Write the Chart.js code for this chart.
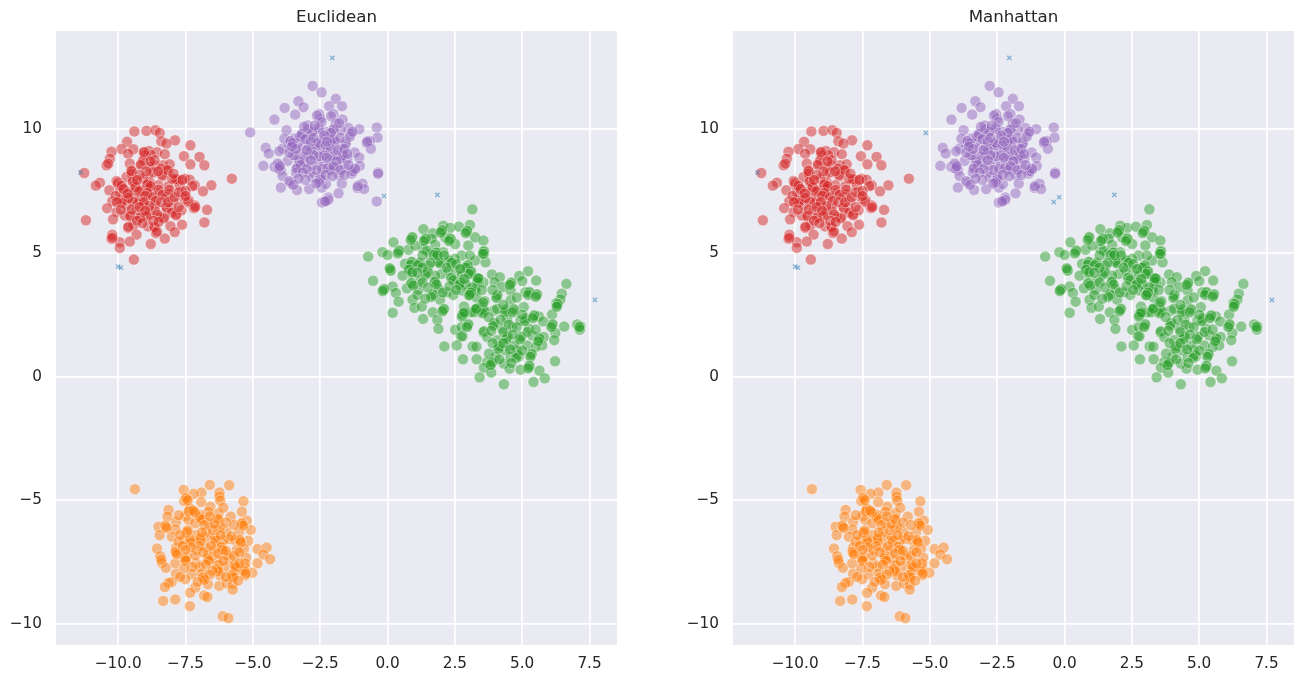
<!DOCTYPE html>
<html>
<head>
<meta charset="utf-8">
<title>Clusters by distance metric</title>
<script src="https://cdn.jsdelivr.net/npm/chart.js@4"></script>
<style>
    html, body { margin: 0; padding: 0; background: #ffffff; overflow: hidden; }
    canvas { position: absolute; top: 0; }
    #euclideanChart { left: 0; }
    #manhattanChart { left: 677px; }
</style>
</head>
<body>
<canvas id="euclideanChart" width="640" height="684"></canvas>
<canvas id="manhattanChart" width="628" height="684"></canvas>
<script>
const clusterRed = [
    [-9.40,9.91],[-8.95,9.93],[-8.62,9.96],[-8.46,9.85],[-7.89,9.55],[-8.40,9.51],[-8.21,9.42],[-9.67,9.49],[-7.32,9.35],
    [-9.88,9.20],[-9.44,9.19],[-10.25,9.09],[-9.63,9.01],[-9.05,9.04],[-8.86,9.12],[-8.56,9.07],[-8.27,8.99],[-7.56,8.91],
    [-6.98,8.88],[-10.31,8.81],[-9.01,8.95],[-8.77,8.95],[-10.43,8.54],[-10.37,8.61],[-9.57,8.61],[-9.14,8.61],[-9.07,8.74],
    [-8.64,8.54],[-8.33,8.54],[-8.09,8.58],[-7.32,8.58],[-6.80,8.54],[-9.51,8.34],[-8.40,8.41],[-8.15,8.31],[-11.26,8.23],
    [-8.89,8.14],[-8.36,8.09],[-5.78,8.00],[-10.68,7.84],[-10.83,7.72],[-6.54,7.73],[-10.06,7.91],[-10.00,7.77],[-9.84,7.64],
    [-9.44,7.93],[-9.38,7.73],[-8.83,7.86],[-8.89,7.80],[-7.84,7.93],[-7.78,7.96],[-7.53,8.00],[-7.35,7.96],[-7.16,7.73],
    [-8.15,7.69],[-9.32,7.53],[-10.33,7.53],[-7.63,7.46],[-6.85,7.49],[-8.95,7.39],[-8.77,7.32],[-9.81,7.19],[-9.94,7.12],
    [-9.44,7.19],[-10.22,7.09],[-7.38,7.12],[-7.16,6.92],[-7.19,6.81],[-10.41,6.81],[-10.06,6.65],[-9.01,6.92],[-8.64,6.92],
    [-8.21,6.85],[-8.02,6.78],[-7.84,6.58],[-7.65,6.72],[-6.70,6.74],[-11.20,6.32],[-10.19,6.36],[-9.54,6.51],[-9.75,6.51],
    [-9.20,6.45],[-8.95,6.47],[-8.83,6.58],[-8.31,6.45],[-6.80,6.23],[-7.63,6.14],[-8.06,6.08],[-9.63,6.01],[-9.44,6.11],
    [-8.89,6.07],[-8.64,6.01],[-8.60,5.80],[-7.90,5.84],[-9.32,5.74],[-10.22,5.73],[-10.25,5.57],[-9.94,5.43],[-9.57,5.46],
    [-8.27,5.58],[-8.79,5.36],[-9.94,5.20],[-9.42,4.73],[-9.26,6.99],[-8.46,7.39],[-7.96,7.12],[-9.57,7.46],[-9.07,8.00],
    [-8.52,7.73],[-8.09,7.39],[-9.69,8.07],[-9.14,7.53],[-8.64,6.72],[-8.21,7.26],[-7.72,7.73],[-9.94,7.46],[-9.32,6.72],
    [-9.69,6.92],[-8.46,6.45],[-7.53,7.19],[-9.51,8.20],[-8.83,8.47],[-9.20,7.12],[-8.83,7.59],
    [-10.02,7.85],[-9.88,7.72],[-9.80,7.58],[-9.46,7.88],[-9.35,7.66],[-9.22,7.48],[-8.92,7.76],[-8.80,7.70],[-8.92,7.42],
    [-9.00,7.30],[-8.70,7.25],[-8.60,7.10],[-9.78,7.12],[-9.46,7.08],[-9.88,7.02],[-9.62,7.22],[-7.86,7.98],[-7.62,7.95],
    [-7.25,7.70],[-8.36,8.15],[-8.18,8.36],[-9.50,8.30],[-9.04,9.08],[-9.16,8.55],[-7.40,7.05],[-7.14,6.85],[-8.20,6.82],
    [-8.00,6.62],[-7.85,6.52],[-9.55,6.48],[-8.94,6.52],[-9.18,6.42],[-9.62,6.06],[-8.66,6.05],[-8.56,5.86],[-10.22,5.62],
    [-8.30,6.40],[-8.85,6.90],[-8.50,7.55],[-8.35,7.35],[-8.10,7.55],[-8.70,8.25],[-8.52,8.30],[-8.95,8.30],[-9.20,8.15],
    [-9.30,7.95],[-10.10,7.30],[-10.05,7.05],[-9.65,7.40],[-9.05,7.05],[-8.40,7.05],[-8.15,7.05],[-7.90,7.25],[-7.75,7.45],
    [-7.50,7.50],[-7.50,7.30],[-9.50,6.75],[-9.20,6.85],[-9.00,6.70],[-8.55,6.55],[-7.75,6.85],[-9.90,6.75],[-9.30,6.30],
    [-9.10,6.20],[-8.70,6.30],[-8.50,6.25],[-8.00,8.00],[-7.95,8.20],[-8.65,8.75],[-8.80,8.70]
];

const clusterPurple = [
    [-2.78,11.75],[-2.45,11.49],[-1.92,11.23],[-3.31,11.13],[-3.12,10.89],[-3.82,10.86],[-2.17,10.93],[-1.69,10.93],[-3.43,10.59],
    [-4.20,10.39],[-2.54,10.61],[-2.01,10.61],[-2.50,10.43],[-2.10,10.53],[-1.67,10.39],[-1.92,10.23],[-2.97,10.15],[-3.75,9.96],
    [-2.57,10.05],[-2.01,9.96],[-1.45,10.05],[-1.05,10.00],[-0.40,10.07],[-0.37,9.66],[-1.36,9.82],[-3.22,9.76],[-2.85,9.80],
    [-3.59,9.49],[-3.65,9.42],[-2.41,9.62],[-1.98,9.58],[-1.55,9.49],[-0.66,9.52],[-0.77,9.45],[-0.62,9.21],[-4.52,9.25],
    [-4.41,9.02],[-3.89,9.22],[-4.02,9.11],[-2.60,9.42],[-3.22,9.22],[-2.17,9.29],[-1.73,9.22],[-1.22,9.06],[-1.67,8.88],
    [-1.05,8.86],[-2.97,8.88],[-3.28,8.77],[-3.71,8.72],[-2.54,8.77],[-2.17,8.75],[-4.61,8.52],[-4.20,8.48],[-4.02,8.55],
    [-3.96,8.34],[-3.34,8.48],[-3.40,8.24],[-2.87,8.25],[-2.17,8.37],[-1.55,8.41],[-1.24,8.34],[-1.03,8.52],[-0.35,8.25],
    [-3.90,8.11],[-3.59,7.83],[-3.96,7.64],[-3.36,7.54],[-2.91,7.58],[-2.51,7.94],[-2.44,7.64],[-2.29,7.78],[-1.80,8.14],
    [-1.70,7.80],[-1.33,8.21],[-0.93,7.80],[-1.12,7.63],[-0.87,7.58],[-1.82,7.41],[-2.20,7.24],[-2.44,7.04],[-2.27,7.10],
    [-3.46,9.62],[-3.03,9.56],[-2.66,9.15],[-2.35,9.15],[-1.92,8.95],[-3.52,8.95],[-2.78,8.55],[-3.09,8.61],[-2.41,8.48],
    [-1.86,8.48],[-1.49,8.81],[-2.29,9.89],[-1.73,9.96],[-3.34,9.42],[-3.83,9.62],[-2.78,8.07],[-2.04,8.88],[-2.50,8.07],
    [-2.10,9.56],[-2.91,9.29],[-4.08,8.61],
    [-3.60,9.52],[-3.52,9.44],[-3.25,9.70],[-3.18,9.80],[-2.60,9.35],[-2.55,9.45],[-2.85,9.15],[-3.10,8.90],[-3.28,8.70],
    [-3.22,8.55],[-3.38,8.40],[-4.05,8.42],[-4.00,8.50],[-2.50,7.98],[-2.55,7.85],[-2.42,8.40],[-2.20,8.45],[-2.10,8.35],
    [-1.65,8.95],[-1.72,8.80],[-1.30,8.30],[-1.20,8.40],[-2.05,9.60],[-1.95,9.50],[-1.55,9.40],[-2.00,10.00],[-2.10,9.85],
    [-2.55,10.00],[-2.62,10.55],[-2.45,10.30],[-2.80,9.90],[-2.95,10.00],[-3.05,9.60],[-2.85,9.50],[-2.30,9.35],[-2.10,9.20],
    [-2.35,8.95],[-2.55,8.90],[-2.75,8.95],[-2.25,8.85],[-1.85,9.15],[-1.60,9.20],[-1.50,9.00],[-1.90,8.70],[-2.00,8.50],
    [-1.75,8.35],[-2.65,8.35],[-3.00,8.40],[-3.15,8.25],[-2.85,8.75],[-3.45,8.95],[-3.65,9.05],[-3.40,9.20],[-3.00,9.15],
    [-2.75,9.65],[-2.35,9.75],[-2.25,9.50],[-1.75,9.65],[-1.40,9.70],[-1.30,9.90],[-3.65,7.90],[-3.50,7.75],[-2.65,7.80],
    [-2.20,7.15],[-2.32,7.08],[-1.10,7.70],[-0.35,8.20],[-0.75,9.50],[-3.55,9.30],[-1.45,8.55],[-2.30,8.15],[-2.05,8.10],
    [-1.60,8.15],[-3.05,7.95],[-3.30,8.00],[-2.70,10.15],[-3.10,10.10],[-1.80,10.25]
];
// These two only join the purple cluster under the euclidean metric
const purpleEuclideanOnly = [[-5.10,9.87],[-0.40,7.08]];

const clusterGreen = [
    [3.15,6.76],[1.33,5.96],[2.07,6.10],[2.32,6.01],[2.65,6.06],[3.06,6.13],[2.94,5.86],[2.01,5.88],[1.68,5.79],[0.90,5.59],
    [0.22,5.43],[3.25,5.63],[1.40,5.54],[2.32,5.54],[1.77,5.32],[3.00,5.30],[3.56,5.50],[0.78,5.13],[0.41,5.05],[-0.19,5.03],
    [0.00,4.92],[-0.72,4.85],[1.33,5.16],[1.83,5.00],[2.75,4.89],[3.56,5.03],[0.90,4.60],[1.15,4.56],[1.89,4.62],[2.32,4.65],
    [2.94,4.46],[0.10,4.33],[0.78,4.29],[1.46,4.19],[2.57,4.29],[3.06,4.22],[0.56,4.08],[-0.54,3.87],[1.77,3.79],[0.90,3.75],
    [2.38,3.95],[2.69,3.75],[3.37,3.92],[-0.15,3.50],[0.19,3.64],[0.72,3.57],[1.15,3.52],[0.31,3.38],[2.20,3.41],[3.06,3.34],
    [1.67,3.28],[2.44,3.30],[0.41,3.03],[0.93,3.11],[1.95,3.11],[1.00,2.78],[1.27,2.83],[2.07,2.70],[0.19,2.58],[1.68,2.60],
    [2.84,2.83],[2.78,2.49],[3.25,2.67],[3.56,2.63],[1.32,2.33],[1.85,2.29],[2.98,2.06],[1.89,1.93],[2.51,1.89],[2.72,1.63],
    [3.56,1.79],[2.11,1.22],[2.57,1.26],[3.16,1.22],[1.58,4.96],[2.07,5.03],[2.51,4.76],[3.25,4.69],[1.52,4.49],[2.01,4.15],
    [1.21,3.88],[1.89,3.55],[2.88,3.68],[1.02,5.30],[2.51,5.36],[3.25,3.55],[2.75,4.08],[1.64,5.57],[2.14,5.63],[3.56,3.81],
    [1.46,5.09],[2.26,4.29],[3.06,4.89],[1.77,4.08],[0.90,4.15],[3.49,2.87],[3.06,2.60],[0.65,4.56],
    [5.22,4.26],[4.89,4.07],[5.52,3.88],[3.88,4.13],[4.17,4.02],[5.00,3.86],[3.98,3.82],[6.64,3.75],[4.57,3.75],[4.26,3.62],
    [4.57,3.48],[5.25,3.37],[5.53,3.28],[5.12,3.41],[6.47,3.35],[6.42,3.12],[6.27,2.97],[6.30,2.88],[4.07,3.24],[3.60,3.05],
    [4.57,3.08],[5.06,2.81],[4.38,2.67],[3.58,2.61],[3.27,2.70],[2.84,2.54],[6.11,2.51],[5.62,2.43],[5.43,2.43],[5.12,2.30],
    [5.78,2.23],[3.95,2.11],[6.11,2.07],[6.56,2.02],[7.04,2.11],[7.16,2.03],[7.14,1.90],[4.63,2.00],[3.58,1.83],[2.75,2.00],
    [6.23,1.76],[3.70,1.60],[4.44,1.56],[4.94,1.56],[5.37,1.67],[5.62,1.49],[5.80,1.60],[6.19,1.47],[2.78,1.63],[4.26,1.94],
    [4.07,1.47],[5.74,1.26],[4.14,1.17],[3.30,1.21],[4.81,1.06],[5.33,0.86],[4.38,1.06],[4.88,0.82],[4.01,0.79],[3.31,0.70],
    [2.80,0.70],[6.22,0.62],[3.70,0.59],[3.86,0.52],[4.32,0.52],[3.58,0.36],[4.53,0.32],[4.94,0.28],[5.25,0.39],[5.64,0.24],
    [3.85,0.16],[3.42,-0.03],[5.84,-0.07],[5.42,-0.22],[4.32,-0.31],[2.96,4.42],[3.09,4.15],[3.33,3.95],[2.90,3.75],[3.09,3.35],
    [3.64,4.62],[3.58,4.96],[4.69,2.67],[3.95,2.67],[4.44,2.34],[4.94,2.27],[5.25,1.94],[4.69,1.26],[5.19,1.26],[3.77,0.93],
    [5.51,1.20],[4.57,0.79],[4.07,2.74],[3.27,3.48],[2.78,3.48],[3.40,3.82],
    [0.90,4.64],[0.86,4.52],[1.20,4.60],[1.12,4.50],[0.80,4.32],[0.92,4.22],[0.88,3.78],[0.95,3.68],[1.50,4.24],[1.42,4.12],
    [1.88,4.66],[1.95,4.58],[2.30,4.70],[2.38,4.60],[1.75,3.84],[1.82,3.72],[2.36,4.00],[2.44,3.90],[2.98,4.50],[2.90,4.40],
    [3.10,4.26],[3.02,4.15],[3.40,3.96],[3.34,3.85],[2.72,3.80],[2.66,3.70],[3.08,3.38],[3.02,3.28],[1.70,3.32],[1.62,3.22],
    [2.10,2.74],[2.04,2.64],[2.80,2.54],[2.76,2.42],[3.28,2.72],[3.20,2.60],[0.12,4.28],[0.08,4.38],[-0.12,3.54],[-0.18,3.46],
    [1.80,5.02],[1.72,4.92],[1.85,4.90],[1.42,5.58],[1.35,5.48],[2.34,5.58],[2.28,5.48],[2.96,5.90],[2.90,5.80],[2.03,5.92],
    [1.97,5.82],[0.92,5.64],[0.86,5.52],[0.44,5.10],[0.38,4.98],[3.58,5.08],[3.54,4.96],[3.60,2.68],[3.52,2.56],[3.00,2.12],
    [2.95,2.00],[1.30,4.90],[1.60,4.60],[2.10,4.90],[2.20,4.40],[2.55,4.55],[2.70,4.35],[1.30,4.40],[1.10,4.20],[1.30,3.80],
    [1.50,3.60],[2.05,3.40],[2.30,3.65],[2.55,3.50],[2.85,3.95],[3.15,3.60],[3.30,3.20],[3.50,3.50],[1.10,3.30],[1.40,3.15],
    [3.36,3.98],[3.10,3.40],[3.05,3.30],[2.85,2.60],[3.30,2.75],[4.08,3.30],[4.04,3.18],[4.60,3.80],[4.54,3.70],[5.27,3.42],
    [5.22,3.30],[5.55,3.33],[5.50,3.23],[4.40,2.72],[4.35,2.60],[4.70,2.72],[4.65,2.60],[3.97,2.17],[3.92,2.05],[5.14,2.36],
    [5.09,2.24],[5.45,2.48],[5.40,2.36],[4.46,1.62],[4.41,1.50],[4.96,1.62],[4.91,1.50],[5.64,1.55],[5.59,1.42],[4.16,1.23],
    [4.11,1.11],[4.83,0.88],[4.78,0.76],[5.35,0.92],[5.30,0.80],[3.88,0.58],[3.82,0.46],[5.27,0.44],[5.22,0.33],[6.13,2.12],
    [6.08,2.00],[7.12,2.00],[6.32,2.94],[6.28,2.82],[4.20,2.30],[4.50,2.10],[4.80,2.00],[5.00,2.50],[4.30,2.90],[4.80,3.20],
    [4.30,1.80],[4.65,1.70],[5.20,1.80],[5.50,1.90],[3.90,1.35],[4.30,1.35],[4.55,1.10],[5.00,1.05],[4.15,0.70],[4.60,0.55],
    [3.85,1.85],[3.75,2.40],[3.55,3.00],[3.90,3.50]
];

const clusterOrange = [
    [-9.38,-4.55],[-7.57,-4.58],[-6.60,-4.38],[-5.88,-4.39],[-6.91,-4.69],[-7.20,-4.74],[-6.24,-4.69],[-6.24,-4.85],[-6.21,-5.01],
    [-7.45,-4.95],[-7.55,-5.03],[-6.92,-5.07],[-5.35,-5.04],[-6.58,-5.26],[-8.13,-5.39],[-7.35,-5.39],[-7.18,-5.46],[-6.65,-5.46],
    [-5.41,-5.46],[-6.28,-5.53],[-5.82,-5.66],[-8.17,-5.66],[-7.51,-5.64],[-6.96,-5.73],[-7.39,-5.80],[-6.28,-5.80],[-5.23,-5.82],
    [-7.85,-5.86],[-6.65,-5.91],[-5.39,-5.96],[-8.50,-6.07],[-8.23,-6.07],[-7.88,-6.18],[-6.30,-6.14],[-5.08,-6.20],[-8.46,-6.41],
    [-8.01,-6.47],[-7.45,-6.27],[-6.73,-6.27],[-5.99,-6.27],[-5.51,-6.27],[-7.33,-6.64],[-6.93,-6.58],[-6.40,-6.58],[-5.91,-6.57],
    [-5.17,-6.64],[-5.47,-6.64],[-8.56,-6.95],[-7.85,-6.91],[-6.16,-6.92],[-5.33,-6.95],[-4.83,-6.97],[-4.49,-6.91],[-7.85,-7.12],
    [-7.10,-7.01],[-4.61,-7.19],[-4.36,-7.38],[-8.44,-7.26],[-7.51,-7.39],[-6.65,-7.39],[-6.34,-7.39],[-5.85,-7.35],[-5.25,-7.32],
    [-4.83,-7.55],[-8.38,-7.53],[-8.23,-7.73],[-7.10,-7.55],[-5.66,-7.66],[-5.29,-7.73],[-6.31,-7.82],[-7.85,-7.96],[-7.27,-7.99],
    [-5.02,-7.93],[-5.75,-8.07],[-5.29,-8.03],[-6.83,-8.16],[-7.51,-8.19],[-8.01,-8.30],[-8.13,-8.34],[-6.67,-8.39],[-7.14,-8.53],
    [-6.25,-8.46],[-8.27,-8.51],[-5.97,-8.36],[-5.75,-8.39],[-5.75,-8.61],[-7.33,-8.74],[-6.81,-8.85],[-6.69,-8.91],[-7.88,-9.01],
    [-8.33,-9.07],[-7.34,-9.28],[-6.12,-9.69],[-5.91,-9.76],[-7.14,-5.93],[-6.77,-6.88],[-6.46,-7.01],[-6.03,-7.69],[-6.28,-7.62],
    [-7.45,-7.28],[-6.96,-7.69],[-5.97,-7.22],[-5.66,-6.61],[-7.57,-6.61],[-5.60,-7.01],[-6.65,-7.22],[-7.14,-7.22],[-6.09,-6.61],
    [-7.76,-6.68],[-6.71,-6.47],[-5.66,-7.89],[-6.90,-7.96],[-5.29,-7.55],[-7.88,-7.55],[-6.22,-8.03],[-6.96,-5.59],[-7.14,-6.41],
    [-6.22,-6.07],
    [-7.52,-7.36],[-7.49,-7.44],[-6.93,-6.62],[-6.96,-6.54],[-7.33,-6.58],[-7.30,-6.70],[-7.46,-6.32],[-7.42,-6.22],[-8.25,-6.02],
    [-8.20,-6.12],[-6.98,-5.68],[-6.90,-5.78],[-7.33,-5.34],[-7.38,-5.45],[-7.15,-5.50],[-7.22,-5.42],[-7.48,-4.90],[-7.42,-5.00],
    [-5.41,-5.92],[-5.36,-6.02],[-5.49,-6.60],[-5.44,-6.70],[-6.42,-6.52],[-6.37,-6.64],[-6.18,-6.88],[-6.12,-7.00],[-7.87,-7.08],
    [-7.82,-7.18],[-6.67,-7.35],[-6.62,-7.45],[-5.68,-7.62],[-5.63,-7.72],[-6.85,-8.12],[-6.80,-8.22],[-5.78,-8.02],[-5.72,-8.12],
    [-5.32,-7.85],[-5.26,-7.96],[-6.33,-7.78],[-6.28,-7.88],[-6.50,-6.20],[-6.45,-5.95],[-6.80,-6.00],[-6.90,-6.30],[-7.00,-6.85],
    [-7.30,-6.90],[-7.60,-6.85],[-7.70,-6.40],[-6.30,-5.75],[-6.00,-5.90],[-5.70,-6.00],[-5.80,-6.45],[-6.20,-6.40],[-6.55,-6.85],
    [-6.30,-7.15],[-6.00,-7.05],[-5.70,-7.25],[-5.50,-7.10],[-6.75,-7.60],[-6.50,-7.85],[-7.25,-7.70],[-7.55,-7.75],[-7.50,-7.00],
    [-6.85,-7.10],[-6.10,-7.45],[-5.50,-7.55],[-6.60,-8.00],[-7.05,-8.30],[-6.00,-8.10],[-5.55,-8.25],[-7.70,-8.10],[-8.40,-7.40],
    [-7.75,-5.60],[-6.60,-5.65],[-6.10,-5.30]
];

// Points left unassigned (noise) by each metric
const noiseEuclidean = [[-11.40,8.25],[-10.00,4.45],[-9.90,4.40],[-2.05,12.88],[-0.13,7.30],[1.85,7.35],[7.70,3.10]];
const noiseManhattan = [[-11.40,8.25],[-10.00,4.45],[-9.90,4.40],[-5.15,9.85],[-2.05,12.88],[-0.40,7.05],[-0.20,7.25],[1.85,7.35],[7.70,3.10]];

const xTicks = [-10, -7.5, -5, -2.5, 0, 2.5, 5, 7.5];
const yTicks = [-10, -5, 0, 5, 10];
const xRange = [-12.31, 8.52];
const yRange = [-10.85, 13.97];

const plotBackground = {
    id: 'plotBackground',
    beforeDraw(chart) {
        const { ctx, chartArea } = chart;
        ctx.save();
        ctx.fillStyle = '#eaeaf2';
        ctx.fillRect(chartArea.left, chartArea.top, chartArea.width, chartArea.height);
        ctx.restore();
    }
};

function clusterDataset(points, rgb) {
    return {
        data: points.map(p => ({ x: p[0], y: p[1] })),
        backgroundColor: `rgba(${rgb}, 0.5)`,
        borderColor: 'rgba(255, 255, 255, 0.45)',
        borderWidth: 0.9,
        pointRadius: 5.5
    };
}

function noiseDataset(points) {
    return {
        data: points.map(p => ({ x: p[0], y: p[1] })),
        pointStyle: 'crossRot',
        pointRadius: 3,
        borderColor: 'rgba(31, 119, 180, 0.5)',
        backgroundColor: 'rgba(31, 119, 180, 0.5)',
        borderWidth: 1.4
    };
}

function formatTick(value, digits) {
    return value.toFixed(digits).replace('-', '\u2212');
}

function axisOptions(range, ticks, digits, pad, fit) {
    return {
        type: 'linear',
        min: range[0],
        max: range[1],
        border: { display: false },
        grid: { color: '#ffffff', lineWidth: 1.7, drawTicks: false },
        ticks: {
            color: '#262626',
            autoSkip: false,
            maxRotation: 0,
            padding: pad,
            font: { family: 'DejaVu Sans', size: 15.28 },
            callback: value => formatTick(value, digits)
        },
        afterBuildTicks: scale => {
            scale.ticks = ticks.map(v => ({ value: v }));
        },
        afterFit: fit
    };
}

function drawPanel(canvasId, title, rightPad, purple, noise) {
    const ctx = document.getElementById(canvasId);
    return new Chart(ctx, {
        type: 'scatter',
        data: {
            // first dataset ends up on top
            datasets: [
                noiseDataset(noise),
                clusterDataset(clusterRed, '214, 39, 40'),
                clusterDataset(clusterPurple.concat(purple), '148, 103, 189'),
                clusterDataset(clusterGreen, '44, 160, 44'),
                clusterDataset(clusterOrange, '255, 127, 14')
            ]
        },
        options: {
            responsive: false,
            animation: false,
            layout: { padding: { left: 0, right: rightPad, top: 0, bottom: 0 } },
            plugins: {
                legend: { display: false },
                tooltip: { enabled: false },
                title: {
                    display: true,
                    text: title,
                    fullSize: false,
                    color: '#262626',
                    font: { family: 'DejaVu Sans', size: 16.67, weight: 'normal', lineHeight: 1.2 },
                    padding: { top: 8, bottom: 3 }
                }
            },
            scales: {
                x: axisOptions(xRange, xTicks, 1, 10, scale => { scale.height = 39; }),
                y: axisOptions(yRange, yTicks, 0, 14, scale => { scale.width = 56; })
            }
        },
        plugins: [plotBackground]
    });
}

drawPanel('euclideanChart', 'Euclidean', 23, purpleEuclideanOnly, noiseEuclidean);
drawPanel('manhattanChart', 'Manhattan', 11, [], noiseManhattan);
</script>
</body>
</html>
